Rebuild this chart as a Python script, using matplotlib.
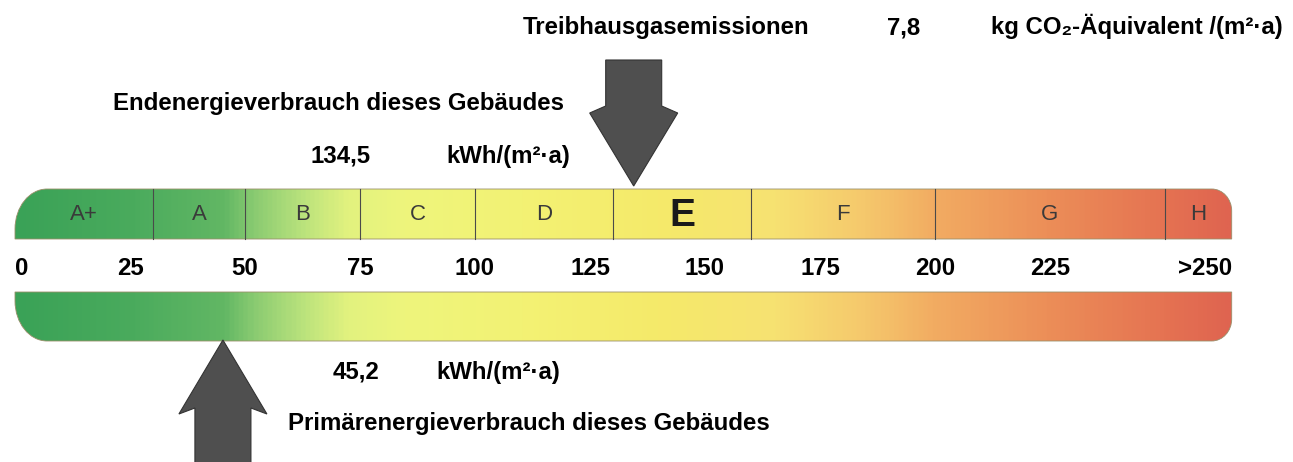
import numpy as np
import matplotlib
matplotlib.use('Agg')
import matplotlib.pyplot as plt
from matplotlib.path import Path
from matplotlib.patches import PathPatch, Polygon
from matplotlib.colors import LinearSegmentedColormap

plt.rcParams['font.family'] = ['Liberation Sans', 'DejaVu Sans']

# data
class_labels = ['A+', 'A', 'B', 'C', 'D', 'E', 'F', 'G', 'H']
class_bounds = [0, 30, 50, 75, 100, 130, 160, 200, 250, 264.5]
tick_values = [0, 25, 50, 75, 100, 125, 150, 175, 200, 225]
tick_labels = ['0', '25', '50', '75', '100', '125', '150', '175', '200', '225']
last_label = '>250'
current_class = 'E'
endenergie = 134.5
primaerenergie = 45.2
co2 = 7.8

# colour ramp along the scale (value, colour)
ramp_pos = [0, 25, 45, 52, 62, 72, 85, 110, 140, 165, 185, 200, 225, 250, 264.5]
ramp_col = ['#3aa257', '#4aab5d', '#62b764', '#8ccc72', '#b9e27c', '#e2f27f',
            '#eef57c', '#f3f274', '#f5ea6a', '#f7e272', '#f5c86c', '#f2ac62',
            '#ec8e58', '#e57352', '#df6450']

# pixel layout: x_px = X0 + SX * value, y in pixels (top = 0)
X0, SX = 15, 4.6
W, H = 1293, 462
FS = 17.3


def vx(px):
    return (px - X0) / SX


fig = plt.figure(figsize=(W / 100, H / 100), dpi=100)
ax = fig.add_axes([0, 0, 1, 1])
ax.set_xlim(vx(0), vx(W))
ax.set_ylim(H, 0)
ax.axis('off')

lo, hi = class_bounds[0], class_bounds[-1]
cmap = LinearSegmentedColormap.from_list(
    'scale', [((p - lo) / (hi - lo), c) for p, c in zip(ramp_pos, ramp_col)])
grad = np.linspace(lo, hi, 800)[None, :]


def bar_path(y0, y1, round_top):
    # rounded corner on the outer side (top for upper bar, bottom for lower)
    rlx, rly = 32 / SX, 40   # left corner radii
    rrx, rry = 20 / SX, 22   # right corner radii
    k = 0.5523
    if round_top:
        ye, yi = y0, y1
        s = 1
    else:
        ye, yi = y1, y0
        s = -1
    verts = [(lo, yi), (lo, ye + s * rly),
             (lo, ye + s * rly * (1 - k)), (lo + rlx * (1 - k), ye), (lo + rlx, ye),
             (hi - rrx, ye),
             (hi - rrx * (1 - k), ye), (hi, ye + s * rry * (1 - k)), (hi, ye + s * rry),
             (hi, yi), (lo, yi)]
    codes = [Path.MOVETO, Path.LINETO,
             Path.CURVE4, Path.CURVE4, Path.CURVE4,
             Path.LINETO,
             Path.CURVE4, Path.CURVE4, Path.CURVE4,
             Path.LINETO, Path.CLOSEPOLY]
    return Path(verts, codes)


def draw_bar(y0, y1, round_top):
    patch = PathPatch(bar_path(y0, y1, round_top), facecolor='none',
                      edgecolor='#9a8f6a', lw=0.6, zorder=3)
    ax.add_patch(patch)
    im = ax.imshow(grad, cmap=cmap, vmin=lo, vmax=hi, aspect='auto',
                   extent=(lo, hi, y1, y0), zorder=2, interpolation='bilinear')
    im.set_clip_path(patch)


# upper bar with classes
TOP0, TOP1 = 189, 239
draw_bar(TOP0, TOP1, True)
for b in class_bounds[1:-1]:
    ax.plot([b, b], [TOP0, TOP1], color='#4a4a4a', lw=0.8, zorder=4)
for i, lab in enumerate(class_labels):
    xc = (class_bounds[i] + class_bounds[i + 1]) / 2
    if lab == current_class:
        ax.text(xc, 216, lab, ha='center', va='center', fontsize=28,
                fontweight='bold', color='#1a1a1a', zorder=5)
    else:
        ax.text(xc, 214, lab, ha='center', va='center', fontsize=16,
                color='#3a3a3a', zorder=5)

# scale labels
for v, lab in zip(tick_values, tick_labels):
    ax.text(v, 275, lab, ha='left' if v == 0 else 'center', va='baseline',
            fontsize=FS, fontweight='bold', color='black')
ax.text(hi, 275, last_label, ha='right', va='baseline', fontsize=FS,
        fontweight='bold', color='black')

# lower bar (continuous)
BOT0, BOT1 = 292, 341
draw_bar(BOT0, BOT1, False)

# arrows
shaft_hw, head_hw = 28 / SX, 44 / SX
arrow_kw = dict(closed=True, facecolor='#4f4f4f', edgecolor='#333333', lw=0.8, zorder=6)
e = endenergie
ax.add_patch(Polygon([(e - shaft_hw, 60), (e + shaft_hw, 60), (e + shaft_hw, 106),
                      (e + head_hw, 113), (e, 186), (e - head_hw, 113),
                      (e - shaft_hw, 106)], **arrow_kw))
p = primaerenergie
ax.add_patch(Polygon([(p - shaft_hw, 475), (p + shaft_hw, 475), (p + shaft_hw, 408),
                      (p + head_hw, 414), (p, 340), (p - head_hw, 414),
                      (p - shaft_hw, 408)], **arrow_kw))

# texts
tk = dict(fontsize=FS, fontweight='bold', color='black', va='baseline')
ax.text(vx(523), 34, 'Treibhausgasemissionen', **tk)
ax.text(vx(887), 34, f'{co2:.1f}'.replace('.', ','), **tk)
ax.text(vx(1283), 34, 'kg CO\u2082-\u00c4quivalent /(m\u00b2\u00b7a)', ha='right', **tk)
ax.text(vx(113), 110, 'Endenergieverbrauch dieses Geb\u00e4udes', **tk)
ax.text(vx(310), 163, f'{endenergie:.1f}'.replace('.', ','), **tk)
ax.text(vx(570), 163, 'kWh/(m\u00b2\u00b7a)', ha='right', **tk)
ax.text(vx(333), 379, f'{primaerenergie:.1f}'.replace('.', ','), **tk)
ax.text(vx(560), 379, 'kWh/(m\u00b2\u00b7a)', ha='right', **tk)
ax.text(vx(288), 430, 'Prim\u00e4renergieverbrauch dieses Geb\u00e4udes', **tk)

fig.savefig('out.png', dpi=100)
